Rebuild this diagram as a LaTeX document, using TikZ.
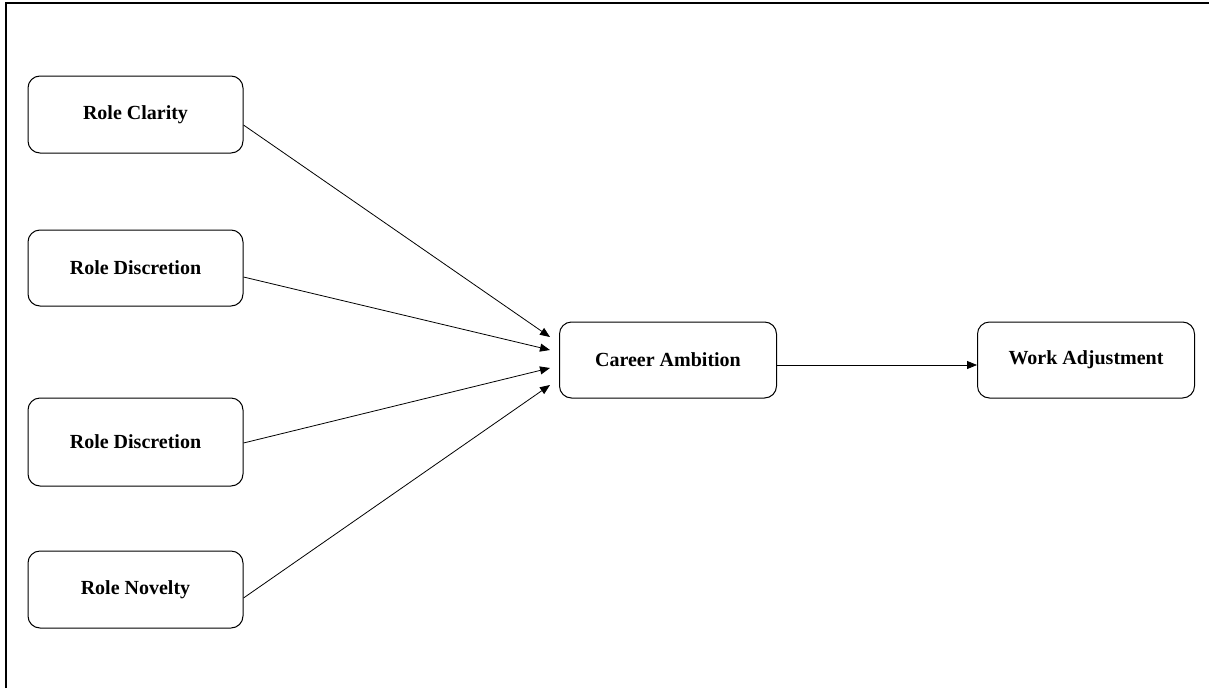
\documentclass[tikz,border=0pt]{standalone}
\usepackage{fontspec}
\setmainfont{Liberation Serif}
\usetikzlibrary{arrows.meta,calc}
\begin{document}
\begin{tikzpicture}[x=1pt,y=-1pt,
  box/.style={draw, rounded corners=12pt, minimum width=215pt, minimum height=77pt,
    inner sep=0pt, font=\fontsize{20}{24}\selectfont\bfseries, line width=1pt},
  arr/.style={-{Triangle[length=10pt,width=8pt]}, line width=0.8pt}]
\useasboundingbox (0,0) rectangle (1209,688);
\draw[line width=2pt] (6,688) -- (6,3) -- (1209,3);
\node[box] (rc) at (135.5,114.5) {Role Clarity};
\node[box, minimum height=76pt] (rd1) at (135.5,268) {Role Discretion};
\node[box, minimum height=88pt] (rd2) at (135.5,442) {Role Discretion};
\node[box] (rn) at (135.5,589.5) {Role Novelty};
\node[box, minimum height=76pt, minimum width=217pt] (ca) at (668,360) {Career Ambition};
\node[box, minimum height=76pt, minimum width=217pt] (wa) at (1086,360) {Work Adjustment};
\draw[arr] ($(rc.east)+(0,10.5)$) -- ($(ca.west)+(-9,-23)$);
\draw[arr] ($(rd1.east)+(0,9)$) -- ($(ca.west)+(-9,-10)$);
\draw[arr] ($(rd2.east)+(0,1)$) -- ($(ca.west)+(-9,8)$);
\draw[arr] ($(rn.east)+(0,8.5)$) -- ($(ca.west)+(-9,25)$);
\draw[arr] ($(ca.east)+(0,5)$) -- ($(wa.west)+(0,5)$);
\end{tikzpicture}
\end{document}
